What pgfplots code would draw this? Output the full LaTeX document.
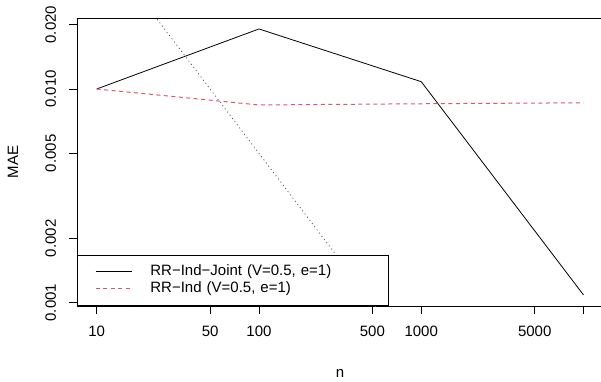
\documentclass[border=0pt]{standalone}
\usepackage{pgfplots}
\pgfplotsset{compat=1.18}
\usepackage{fontspec}
\setmainfont{Liberation Sans}
\definecolor{rred}{HTML}{DF536B}
\begin{document}
\fontsize{15}{18}\selectfont
\begin{tikzpicture}
\useasboundingbox (0,0) rectangle (601pt,381pt);
\begin{axis}[
  at={(77.2pt,75pt)}, anchor=south west,
  scale only axis, width=525.8pt, height=288pt,
  xmode=log, ymode=log,
  xmin=7.586, xmax=13183, ymin=0.000965, ymax=0.02149,
  xtick={10,50,100,500,1000,5000,10000},
  xticklabels={10,50,100,500,1000,5000,{}},
  ytick={0.001,0.002,0.005,0.01,0.02},
  yticklabels={0.001,0.002,0.005,0.010,0.020},
  minor tick length=0pt,
  tick align=outside, major tick length=8pt,
  tick pos=left,
  axis line style={line width=0.8pt},
  every tick/.style={black, line width=0.8pt},
  xticklabel style={anchor=base, yshift=-22.8pt, inner sep=0pt},
  yticklabel style={rotate=90, anchor=base, yshift=13.3pt, inner sep=0pt},
  xlabel={n}, ylabel={MAE},
  xlabel style={at={(axis description cs:0.5,-0.249)}, anchor=base, inner sep=0pt},
  ylabel style={at={(axis description cs:-0.1221,0.5)}, anchor=center, inner sep=0pt, rotate=0},
  legend cell align=left,
  legend style={at={(axis description cs:0,0)}, anchor=south west, draw=black, line width=0.8pt, fill=white,
    inner xsep=0pt, inner ysep=8pt, row sep=0pt, column sep=0pt,
    nodes={inner sep=0pt, text width=238pt, text height=10.7pt, text depth=3.3pt, font=\fontsize{15}{18}\selectfont}},
  legend image code/.code={\path[draw=none,fill=none] (0pt,-8.65pt) rectangle (72.8pt,8.65pt); \draw (18.1pt,0pt) -- (54.1pt,0pt);},
]
\addplot[black, line width=0.8pt] coordinates {(10,0.0100) (100,0.0191) (1000,0.01082) (10000,0.001087)};
\addlegendentry{RR−Ind−Joint (V=0.5, e=1)}
\addplot[draw=rred, line width=1pt, dash pattern=on 4pt off 3.5pt] coordinates {(10,0.0100) (100,0.00842) (1000,0.00853) (10000,0.00862)};
\addlegendentry{RR−Ind (V=0.5, e=1)}
\addplot[black!70, line width=0.75pt, dash pattern=on 1pt off 3pt, forget plot] coordinates {(10,0.05) (1000,0.0005)};
\end{axis}
\end{tikzpicture}
\end{document}
